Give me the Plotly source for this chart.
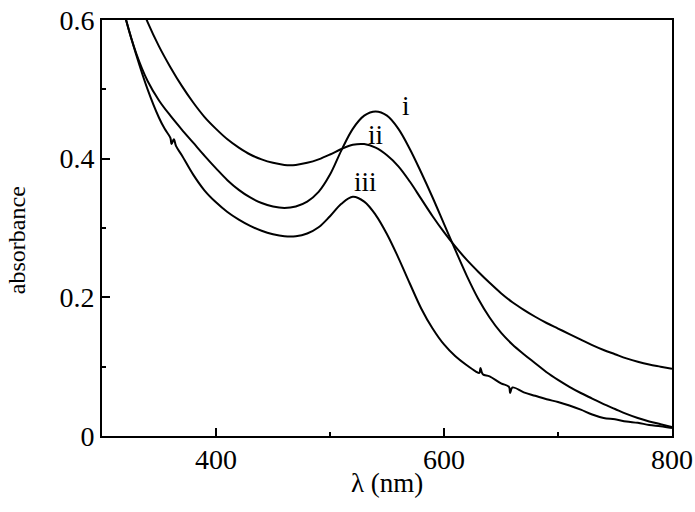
import plotly.graph_objects as go

# Curve i (narrow plasmon band)
wl_i = [300, 310, 320, 330, 340, 350, 360, 370, 380, 390, 400, 410, 420, 430, 440, 450,
        460, 470, 480, 490, 500, 510, 520, 530, 540, 550, 560, 570, 580, 590, 600, 610,
        620, 630, 640, 650, 660, 670, 680, 690, 700, 710, 720, 730, 740, 750, 760, 770,
        780, 790, 800]
abs_i = [0.77, 0.68, 0.607, 0.552, 0.512, 0.484, 0.462, 0.442, 0.423, 0.404, 0.386, 0.369,
         0.355, 0.344, 0.336, 0.331, 0.329, 0.331, 0.338, 0.352, 0.377, 0.412, 0.443, 0.462,
         0.468, 0.462, 0.443, 0.414, 0.380, 0.344, 0.306, 0.268, 0.231, 0.198, 0.171, 0.149,
         0.132, 0.118, 0.105, 0.092, 0.081, 0.071, 0.062, 0.054, 0.046, 0.039, 0.032, 0.026,
         0.021, 0.017, 0.013]

# Curve ii (broad band)
wl_ii = wl_i
abs_ii = [0.80, 0.74, 0.685, 0.638, 0.597, 0.562, 0.532, 0.505, 0.481, 0.460, 0.443, 0.428,
          0.416, 0.406, 0.399, 0.394, 0.391, 0.391, 0.394, 0.399, 0.406, 0.414, 0.420, 0.421,
          0.416, 0.405, 0.389, 0.367, 0.342, 0.317, 0.294, 0.273, 0.254, 0.237, 0.221, 0.206,
          0.193, 0.182, 0.172, 0.163, 0.155, 0.147, 0.139, 0.131, 0.124, 0.118, 0.112, 0.107,
          0.103, 0.100, 0.097]

# Curve iii (noisy spectrum)
wl_iii = [300, 310, 320, 330, 340, 350, 355, 360, 361, 363, 365, 370, 380, 390, 400, 410,
          420, 430, 440, 450, 460, 470, 480, 490, 500, 510, 520, 530, 540, 550, 560, 570,
          580, 590, 600, 610, 620, 628, 631, 632, 634, 640, 650, 657, 658, 660, 670, 680,
          690, 700, 710, 720, 730, 740, 750, 760, 770, 780, 790, 800]
abs_iii = [0.77, 0.68, 0.607, 0.550, 0.500, 0.459, 0.443, 0.430, 0.421, 0.428, 0.418, 0.405,
           0.377, 0.354, 0.337, 0.323, 0.312, 0.303, 0.296, 0.291, 0.288, 0.288, 0.292, 0.301,
           0.317, 0.335, 0.345, 0.338, 0.319, 0.291, 0.257, 0.220, 0.184, 0.155, 0.132, 0.115,
           0.102, 0.093, 0.091, 0.098, 0.089, 0.086, 0.076, 0.071, 0.062, 0.070, 0.063, 0.058,
           0.053, 0.049, 0.044, 0.038, 0.031, 0.026, 0.024, 0.021, 0.019, 0.016, 0.014, 0.0115]

labels = ["i", "ii", "iii"]
label_x = [567, 540, 531]
label_y = [0.476, 0.434, 0.366]

FONT = "Liberation Serif, Times New Roman, serif"

fig = go.Figure()
for wl, ab, name in [(wl_i, abs_i, "i"), (wl_ii, abs_ii, "ii"), (wl_iii, abs_iii, "iii")]:
    fig.add_trace(go.Scatter(x=wl, y=ab, mode="lines", name=name,
                             line=dict(color="black", width=2, shape="spline", smoothing=1.0),
                             showlegend=False, hoverinfo="skip"))

for t, lx, ly in zip(labels, label_x, label_y):
    fig.add_annotation(x=lx, y=ly, xref="x", yref="y", text=t, showarrow=False,
                       font=dict(family=FONT, size=27, color="black"))

# axis titles
fig.add_annotation(x=0.5, y=-0.112, xref="paper", yref="paper", text="λ (nm)",
                   showarrow=False, xanchor="center", yanchor="middle",
                   font=dict(family=FONT, size=27, color="black"))
fig.add_annotation(x=-0.149, y=0.471, xref="paper", yref="paper", text="absorbance",
                   showarrow=False, xanchor="center", yanchor="middle", textangle=-90,
                   font=dict(family=FONT, size=24, color="black"))

fig.update_layout(
    width=695, height=512,
    margin=dict(l=102, r=23, t=20, b=76, autoexpand=False),
    paper_bgcolor="white", plot_bgcolor="white",
    font=dict(family=FONT, color="black"),
)
fig.update_xaxes(
    range=[300, 800], tick0=400, dtick=200, ticks="inside", ticklen=8, tickwidth=1.5,
    tickcolor="black", showline=True, linecolor="black", linewidth=2, mirror=True,
    showgrid=False, zeroline=False, tickfont=dict(family=FONT, size=28), automargin=False,
    ticklabeloverflow="allow", ticklabelstandoff=-3,
    minor=dict(tick0=300, dtick=100, ticks="inside", ticklen=4, tickwidth=1.5, tickcolor="black", showgrid=False),
)
fig.update_yaxes(
    range=[0, 0.6], tick0=0, dtick=0.2, ticks="inside", ticklen=8, tickwidth=1.5,
    tickcolor="black", showline=True, linecolor="black", linewidth=2, mirror=True,
    showgrid=False, zeroline=False, tickfont=dict(family=FONT, size=28), automargin=False,
    ticklabeloverflow="allow",
    minor=dict(tick0=0, dtick=0.1, ticks="inside", ticklen=4, tickwidth=1.5, tickcolor="black", showgrid=False),
)

# remove the browser's default 8px body margin so the figure sits at the window origin
fig.write_html("out.html", config={"displayModeBar": False},
               post_script="document.body.style.margin='0';")
